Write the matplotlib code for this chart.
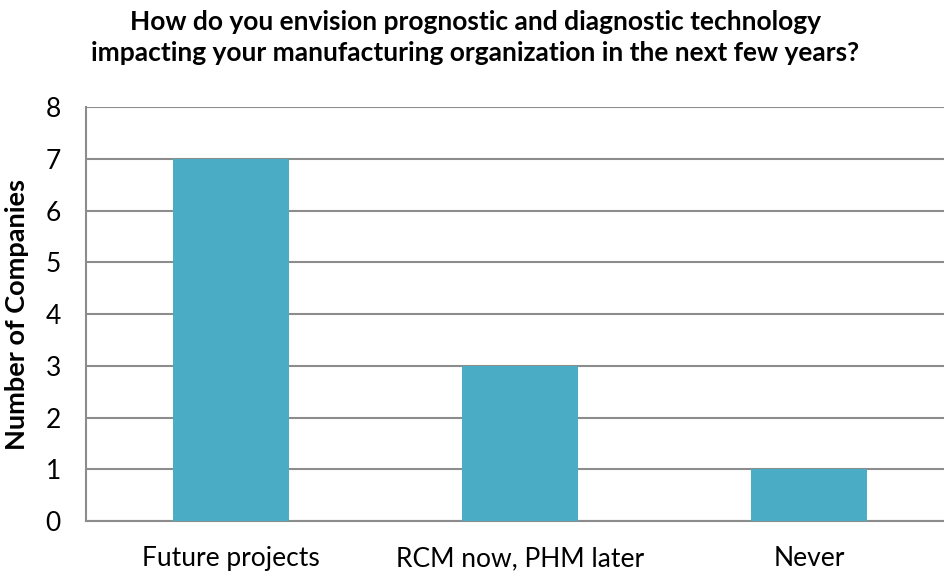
import matplotlib
matplotlib.use("Agg")
import matplotlib.pyplot as plt
import numpy as np

categories = ["Future projects", "RCM now, PHM later", "Never"]
companies = [7, 3, 1]
y_ticks = [0, 1, 2, 3, 4, 5, 6, 7, 8]

BAR_COLOR = "#4BACC6"
GRID_COLOR = "#8C8C8C"

plt.rcParams['font.family'] = ['Lato', 'DejaVu Sans']

fig = plt.figure(figsize=(9.45, 5.79), dpi=100)
ax = fig.add_axes([0.091, 0.100, 0.9185, 0.715])

x = np.arange(len(categories))
ax.bar(x, companies, width=0.4, color=BAR_COLOR, zorder=3)

ax.set_xlim(-0.5, len(categories) - 0.5)
ax.set_ylim(0, 8)
ax.set_yticks(y_ticks)
ax.set_xticks(x)
ax.set_xticklabels(categories, fontsize=19)
ax.tick_params(axis='y', labelsize=19, length=0, pad=18)
ax.tick_params(axis='x', length=0, pad=18)

ax.grid(axis='y', color=GRID_COLOR, linewidth=1.5, zorder=0)
for side in ['top', 'right']:
    ax.spines[side].set_visible(False)
for side in ['left', 'bottom']:
    ax.spines[side].set_color(GRID_COLOR)
    ax.spines[side].set_linewidth(1.5)

ax.set_ylabel("Number of Companies", fontsize=19.5, fontweight='bold', labelpad=12)

fig.text(0.503, 0.935, "How do you envision prognostic and diagnostic technology\n"
         "impacting your manufacturing organization in the next few years?",
         ha='center', va='center', fontsize=19, fontweight='bold', linespacing=1.35)

fig.savefig("out.png", dpi=100)
